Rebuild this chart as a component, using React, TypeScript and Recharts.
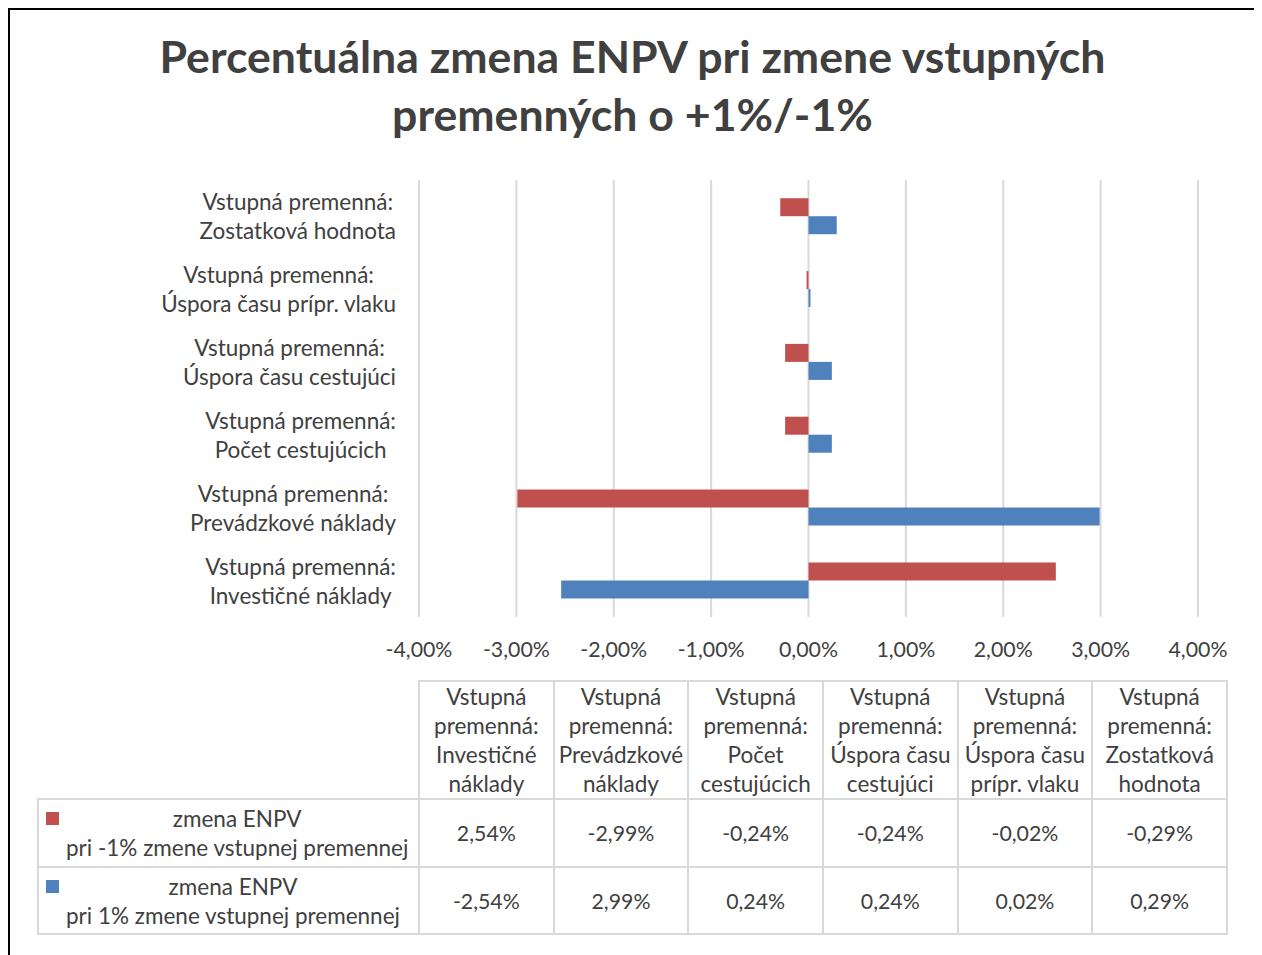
import React from 'react';
import { Bar, BarChart, CartesianGrid, XAxis, YAxis } from 'recharts';

const FONT = 'Lato, "Open Sans", sans-serif';
const TEXT = '#404040';
const GRID = '#d9d9d9';
const WORD_SIZE = 22.5;
const NUM_SIZE = 21.3;

const title = ['Percentuálna zmena ENPV pri zmene vstupných', 'premenných o +1%/-1%'];
const prefix = 'Vstupná premenná:';
const categories = [
  'Investičné náklady',
  'Prevádzkové náklady',
  'Počet cestujúcich',
  'Úspora času cestujúci',
  'Úspora času prípr. vlaku',
  'Zostatková hodnota',
];
const headerLines = [
  ['Vstupná', 'premenná:', 'Investičné', 'náklady'],
  ['Vstupná', 'premenná:', 'Prevádzkové', 'náklady'],
  ['Vstupná', 'premenná:', 'Počet', 'cestujúcich'],
  ['Vstupná', 'premenná:', 'Úspora času', 'cestujúci'],
  ['Vstupná', 'premenná:', 'Úspora času', 'prípr. vlaku'],
  ['Vstupná', 'premenná:', 'Zostatková', 'hodnota'],
];
const minusValues = [2.54, -2.99, -0.24, -0.24, -0.02, -0.29];
const plusValues = [-2.54, 2.99, 0.24, 0.24, 0.02, 0.29];
const xTicks = [-4, -3, -2, -1, 0, 1, 2, 3, 4];
const series = [
  { key: 'minus', color: '#c0504d', lines: ['zmena ENPV', 'pri -1% zmene vstupnej premennej'], values: minusValues },
  { key: 'plus', color: '#4f81bd', lines: ['zmena ENPV', 'pri 1% zmene vstupnej premennej'], values: plusValues },
];

const data = categories.map((name, i) => ({ name, minus: minusValues[i], plus: plusValues[i] }));

const pct = (v: number) => v.toFixed(2).replace('.', ',') + '%';

const CategoryTick = (props: any) => {
  const { y, payload } = props;
  return (
    <foreignObject x={0} y={y - 30} width={386} height={60}>
      <div
        style={{
          height: 60,
          display: 'flex',
          justifyContent: 'flex-end',
          alignItems: 'center',
          fontFamily: FONT,
          fontSize: WORD_SIZE,
          color: TEXT,
        }}
      >
        <div style={{ textAlign: 'center', lineHeight: '29px', whiteSpace: 'nowrap' }}>
          {prefix}
          <br />
          {payload.value}
        </div>
      </div>
    </foreignObject>
  );
};

const border = `2px solid ${GRID}`;

export default function App() {
  return (
    <div
      style={{
        position: 'relative',
        width: 1245,
        height: 960,
        border: '2px solid #000',
        overflow: 'hidden',
        background: '#fff',
        fontFamily: FONT,
        color: TEXT,
      }}
    >
      <div
        style={{
          position: 'absolute',
          left: 0,
          top: 17,
          width: 1245,
          textAlign: 'center',
          fontWeight: 700,
          fontSize: 44.6,
          lineHeight: '58px',
          color: TEXT,
          whiteSpace: 'nowrap',
        }}
      >
        {title[0]}
        <br />
        {title[1]}
      </div>

      <div style={{ position: 'absolute', left: 0, top: 0 }}>
        <BarChart
          width={1245}
          height={680}
          data={data}
          layout="vertical"
          margin={{ top: 170, right: 57, bottom: 33, left: 0 }}
          barCategoryGap="25%"
          barGap={0}
        >
          <CartesianGrid horizontal={false} stroke={GRID} strokeWidth={2} />
          <XAxis
            type="number"
            domain={[-4, 4]}
            ticks={xTicks}
            tickFormatter={pct}
            axisLine={false}
            tickLine={false}
            tickSize={0}
            tickMargin={25}
            height={40}
            tick={{ fontFamily: FONT, fontSize: NUM_SIZE, fill: TEXT }}
          />
          <YAxis
            type="category"
            dataKey="name"
            reversed
            width={409}
            interval={0}
            axisLine={false}
            tickLine={false}
            tick={<CategoryTick />}
          />
          {series.map((s) => (
            <Bar key={s.key} dataKey={s.key} fill={s.color} isAnimationActive={false} />
          ))}
        </BarChart>
      </div>

      <table
        style={{
          position: 'absolute',
          left: 27,
          top: 670,
          borderCollapse: 'collapse',
          tableLayout: 'fixed',
          width: 381 + 6 * 134.67,
          fontFamily: FONT,
          color: TEXT,
        }}
      >
        <colgroup>
          <col style={{ width: 381 }} />
          {categories.map((c) => (
            <col key={c} style={{ width: 134.67 }} />
          ))}
        </colgroup>
        <tbody>
          <tr style={{ height: 117 }}>
            <td style={{ borderTop: 'none', borderLeft: 'none', padding: 0 }} />
            {headerLines.map((lines, i) => (
              <td
                key={i}
                style={{
                  border,
                  padding: 0,
                  textAlign: 'center',
                  lineHeight: '29px',
                  whiteSpace: 'nowrap',
                  fontSize: WORD_SIZE,
                }}
              >
                {lines.map((l, j) => (
                  <div key={j}>{l}</div>
                ))}
              </td>
            ))}
          </tr>
          {series.map((s, r) => (
            <tr key={s.key} style={{ height: r === 0 ? 68 : 67 }}>
              <td style={{ border, padding: 0 }}>
                <div style={{ display: 'flex', alignItems: 'flex-start', paddingLeft: 7 }}>
                  <div
                    style={{ width: 13, height: 13, background: s.color, marginTop: 8, marginRight: 7, flex: 'none' }}
                  />
                  <div style={{ textAlign: 'center', lineHeight: '29px', whiteSpace: 'nowrap', fontSize: WORD_SIZE }}>
                    {s.lines.map((l, j) => (
                      <div key={j}>{l}</div>
                    ))}
                  </div>
                </div>
              </td>
              {s.values.map((v, i) => (
                <td key={i} style={{ border, padding: 0, textAlign: 'center', fontSize: NUM_SIZE }}>
                  {pct(v)}
                </td>
              ))}
            </tr>
          ))}
        </tbody>
      </table>
    </div>
  );
}
